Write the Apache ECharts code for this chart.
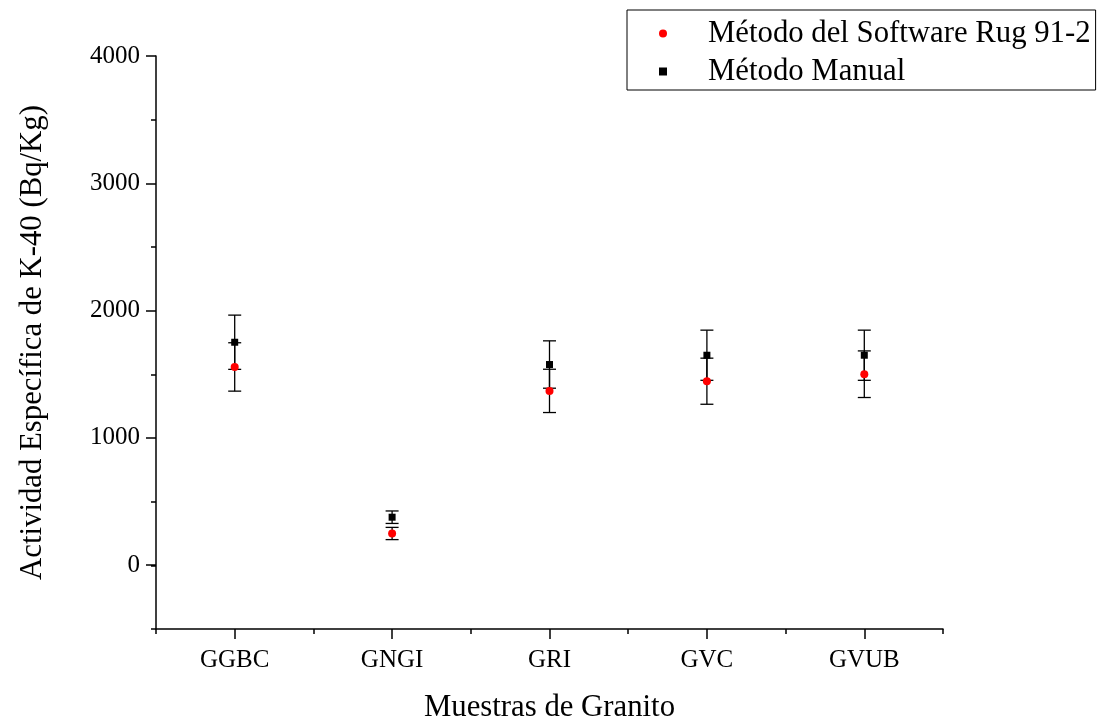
<!DOCTYPE html>
<html>
<head>
<meta charset="utf-8">
<script src="https://cdn.jsdelivr.net/npm/echarts@6/dist/echarts.min.js"></script>
<style>html,body{margin:0;padding:0;background:#fff;}#c{width:1104px;height:720px;}</style>
</head>
<body>
<div id="c"></div>
<script>
var categories = ['GGBC', 'GNGI', 'GRI', 'GVC', 'GVUB'];
var softwareValues = [1558, 250, 1370, 1446, 1501];
var softwareErrors = [190, 48, 170, 181, 183];
var manualValues = [1752, 378, 1577, 1650, 1650];
var manualErrors = [213, 49, 186, 197, 197];
var yTickLabels = [0, 1000, 2000, 3000, 4000];

var FONT = '"Liberation Serif", "Times New Roman", serif';

function errData(vals, errs) {
  return vals.map(function (v, i) { return [i, v - errs[i], v + errs[i]]; });
}
function errRender(params, api) {
  var lo = api.coord([api.value(0), api.value(1)]);
  var hi = api.coord([api.value(0), api.value(2)]);
  var hw = 6.5;
  var st = { stroke: '#000', lineWidth: 1.3 };
  return {
    type: 'group',
    children: [
      { type: 'line', shape: { x1: hi[0], y1: hi[1], x2: lo[0], y2: lo[1] }, style: st },
      { type: 'line', shape: { x1: hi[0] - hw, y1: hi[1], x2: hi[0] + hw, y2: hi[1] }, style: st },
      { type: 'line', shape: { x1: lo[0] - hw, y1: lo[1], x2: lo[0] + hw, y2: lo[1] }, style: st }
    ]
  };
}

var chart = echarts.init(document.getElementById('c'));
chart.setOption({
  backgroundColor: '#fff',
  animation: false,
  textStyle: { fontFamily: FONT },
  grid: [
    { left: 156, right: 161, top: 56, bottom: 91, containLabel: false, outerBoundsMode: 'none' },
    { left: 156, right: 161, top: 56, bottom: 155, containLabel: false, outerBoundsMode: 'none' }
  ],
  legend: {
    orient: 'vertical',
    left: 627,
    top: 10,
    padding: [8, 5, 3, 32],
    itemGap: 7,
    itemWidth: 8,
    itemHeight: 8,
    borderColor: '#000',
    borderWidth: 1,
    borderRadius: 0,
    textStyle: { fontFamily: FONT, fontSize: 30.75, color: '#000', lineHeight: 30, padding: [0, 0, 0, 36] },
    data: [
      { name: 'Método del Software Rug 91-2', icon: 'circle', itemStyle: { color: '#ff0000' } },
      { name: 'Método Manual', icon: 'rect', itemStyle: { color: '#000000' } }
    ]
  },
  xAxis: [
    {
      type: 'category', gridIndex: 0, data: categories, boundaryGap: true,
      name: 'Muestras de Granito', nameLocation: 'middle', nameGap: 63,
      nameTextStyle: { fontFamily: FONT, fontSize: 30.75, color: '#000' },
      axisLine: { show: true, onZero: false, lineStyle: { color: '#000', width: 1.5 } },
      axisTick: { show: true, alignWithLabel: true, length: 10, lineStyle: { color: '#000', width: 1.5 } },
      axisLabel: { fontFamily: FONT, fontSize: 25, color: '#000', margin: 19 },
      splitLine: { show: false }
    },
    {
      type: 'category', gridIndex: 1, data: categories, boundaryGap: true, position: 'bottom', offset: 64,
      axisLine: { show: false, onZero: false },
      axisTick: { show: true, alignWithLabel: false, length: 5, lineStyle: { color: '#000', width: 1.5 } },
      axisLabel: { show: false },
      splitLine: { show: false }
    }
  ],
  yAxis: [
    {
      type: 'value', gridIndex: 0, min: -500, max: 4000, interval: 500,
      name: 'Actividad Específica de K-40 (Bq/Kg)', nameLocation: 'middle', nameGap: 108,
      nameTextStyle: { fontFamily: FONT, fontSize: 30.75, color: '#000' },
      axisLine: { show: true, onZero: false, lineStyle: { color: '#000', width: 1.5 } },
      axisTick: { show: true, length: 5, lineStyle: { color: '#000', width: 1.5 } },
      axisLabel: { show: false },
      splitLine: { show: false }
    },
    {
      type: 'value', gridIndex: 1, min: yTickLabels[0], max: yTickLabels[yTickLabels.length - 1], interval: 1000,
      axisLine: { show: false, onZero: false },
      axisTick: { show: true, length: 10, lineStyle: { color: '#000', width: 1.5 } },
      axisLabel: { fontFamily: FONT, fontSize: 25, color: '#000', margin: 16, formatter: function (v) { return String(v); } },
      splitLine: { show: false }
    }
  ],
  series: [
    {
      type: 'custom', name: 'errSoftware', xAxisIndex: 0, yAxisIndex: 0, z: 1,
      renderItem: errRender, encode: { x: 0, y: [1, 2] },
      data: errData(softwareValues, softwareErrors), silent: true
    },
    {
      type: 'custom', name: 'errManual', xAxisIndex: 0, yAxisIndex: 0, z: 1,
      renderItem: errRender, encode: { x: 0, y: [1, 2] },
      data: errData(manualValues, manualErrors), silent: true
    },
    {
      type: 'scatter', name: 'Método del Software Rug 91-2', xAxisIndex: 0, yAxisIndex: 0, z: 3,
      symbol: 'circle', symbolSize: 8, itemStyle: { color: '#ff0000', opacity: 1 },
      data: softwareValues
    },
    {
      type: 'scatter', name: 'Método Manual', xAxisIndex: 0, yAxisIndex: 0, z: 3,
      symbol: 'rect', symbolSize: 7, itemStyle: { color: '#000000', opacity: 1 },
      data: manualValues
    }
  ]
});
</script>
</body>
</html>
